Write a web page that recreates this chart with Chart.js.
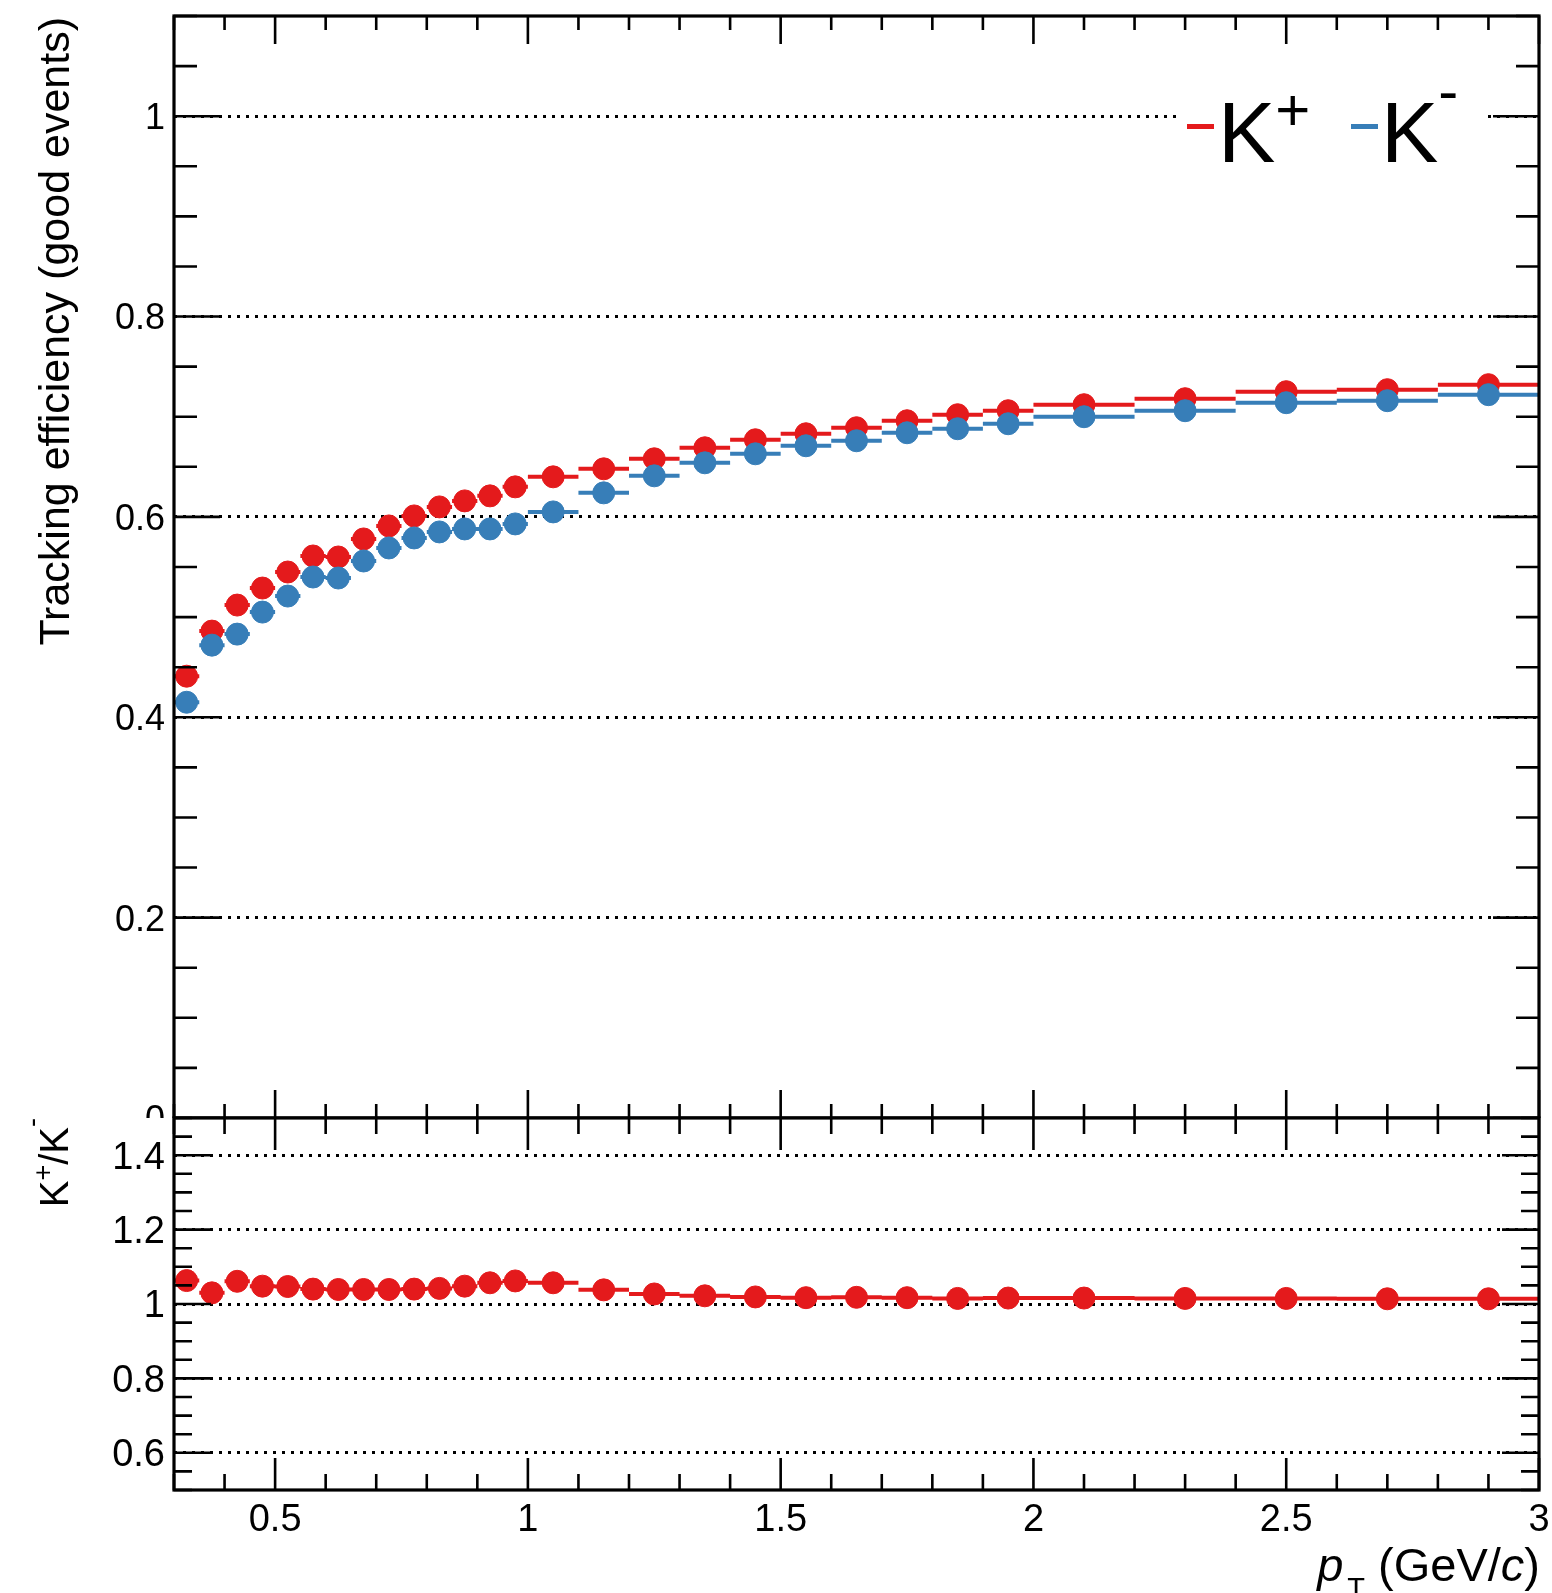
<!DOCTYPE html>
<html>
<head>
<meta charset="utf-8">
<title>Kaon tracking efficiency</title>
<script src="https://cdn.jsdelivr.net/npm/chart.js@4.4.1/dist/chart.umd.min.js"></script>
<style>
  html, body { margin: 0; padding: 0; background: #fff; }
  #wrap { position: relative; width: 1552px; height: 1593px; overflow: hidden; }
  #effPad { position: absolute; left: 0; top: 0; width: 1552px; height: 1118px; overflow: hidden; }
  #effPad canvas { position: absolute; left: 0; top: 0; }
  #ratioCanvas { position: absolute; left: 0; top: 1100px; }
</style>
</head>
<body>
<div id="wrap">
  <div id="effPad"><canvas id="effCanvas" width="1552" height="1142"></canvas></div>
  <canvas id="ratioCanvas" width="1552" height="493"></canvas>
</div>
<script>
// pT bins (GeV/c)
const binLow = [0.30, 0.35, 0.40, 0.45, 0.50, 0.55, 0.60, 0.65, 0.70, 0.75, 0.80, 0.85, 0.90, 0.95,
                1.0, 1.1, 1.2, 1.3, 1.4, 1.5, 1.6, 1.7, 1.8, 1.9,
                2.0, 2.2, 2.4, 2.6, 2.8];
const binHigh = [0.35, 0.40, 0.45, 0.50, 0.55, 0.60, 0.65, 0.70, 0.75, 0.80, 0.85, 0.90, 0.95, 1.00,
                 1.1, 1.2, 1.3, 1.4, 1.5, 1.6, 1.7, 1.8, 1.9, 2.0,
                 2.2, 2.4, 2.6, 2.8, 3.0];
const binCenter = [0.325, 0.375, 0.425, 0.475, 0.525, 0.575, 0.625, 0.675, 0.725, 0.775, 0.825, 0.875, 0.925, 0.975,
                   1.05, 1.15, 1.25, 1.35, 1.45, 1.55, 1.65, 1.75, 1.85, 1.95,
                   2.1, 2.3, 2.5, 2.7, 2.9];

// efficiencies per bin
const effKPlus = [0.441, 0.486, 0.512, 0.529, 0.545, 0.561, 0.560, 0.578, 0.591, 0.601, 0.610, 0.616, 0.621, 0.630,
                  0.640, 0.648, 0.658, 0.669, 0.677, 0.683, 0.689, 0.696, 0.702, 0.706,
                  0.712, 0.718, 0.725, 0.727, 0.732];
const effKMinus = [0.415, 0.472, 0.483, 0.505, 0.521, 0.540, 0.539, 0.556, 0.569, 0.579, 0.585, 0.588, 0.588, 0.593,
                   0.605, 0.624, 0.641, 0.654, 0.663, 0.671, 0.676, 0.684, 0.688, 0.693,
                   0.700, 0.706, 0.714, 0.716, 0.722];
const ratioKpKm = [1.063, 1.030, 1.061, 1.048, 1.047, 1.040, 1.039, 1.039, 1.039, 1.040, 1.042, 1.048, 1.057, 1.062,
                   1.057, 1.038, 1.027, 1.022, 1.019, 1.017, 1.018, 1.017, 1.015, 1.016,
                   1.016, 1.015, 1.015, 1.014, 1.014];

// axes
const ptRange = [0.3, 3.0];
const ptTicks = [0.5, 1, 1.5, 2, 2.5, 3];
const ptTickLabels = ['0.5', '1', '1.5', '2', '2.5', '3'];
const effRange = [0, 1.1];
const effTicks = [0, 0.2, 0.4, 0.6, 0.8, 1];
const effTickLabels = ['0', '0.2', '0.4', '0.6', '0.8', '1'];
const ratioRange = [0.5, 1.5];
const ratioTicks = [0.6, 0.8, 1, 1.2, 1.4];
const ratioTickLabels = ['0.6', '0.8', '1', '1.2', '1.4'];

const RED = '#E41A1C';
const BLUE = '#377EB8';
const FONT = '"Liberation Sans", Arial, Helvetica, sans-serif';

function fontOf(p) {
  return (p.italic ? 'italic ' : '') + p.size + 'px ' + FONT;
}
function richWidth(ctx, parts) {
  let w = 0;
  for (const p of parts) {
    ctx.font = fontOf(p);
    w += ctx.measureText(p.text).width + (p.gap || 0);
  }
  return w;
}
// draws a run of text pieces left to right from (x, y) on a common baseline
function drawRich(ctx, parts, x, y) {
  ctx.textAlign = 'left';
  ctx.textBaseline = 'alphabetic';
  for (const p of parts) {
    x += p.gap || 0;
    ctx.font = fontOf(p);
    ctx.fillText(p.text, x, y + (p.dy || 0));
    x += ctx.measureText(p.text).width;
  }
  return x;
}

// horizontal bars spanning each bin, drawn just under the dataset's markers
const binBars = {
  id: 'binBars',
  beforeDatasetDraw(chart, args) {
    const ds = chart.data.datasets[args.index];
    const { ctx, chartArea: a, scales: { x, y } } = chart;
    ctx.save();
    ctx.beginPath();
    ctx.rect(a.left, a.top, a.width, a.height);
    ctx.clip();
    ctx.strokeStyle = ds.borderColor;
    ctx.lineWidth = 4;
    ctx.beginPath();
    ds.data.forEach((pt, i) => {
      const py = y.getPixelForValue(pt.y);
      ctx.moveTo(x.getPixelForValue(binLow[i]), py);
      ctx.lineTo(x.getPixelForValue(binHigh[i]), py);
    });
    ctx.stroke();
    ctx.restore();
  }
};

// inward tick marks on all four sides plus the frame
const rootAxes = {
  id: 'rootAxes',
  afterDraw(chart, args, o) {
    const { ctx, chartArea: a, scales: { x, y } } = chart;
    const near = (arr, v) => arr.some(t => Math.abs(t - v) < 1e-6);
    ctx.save();
    ctx.strokeStyle = '#000';
    ctx.lineWidth = 2.6;
    ctx.beginPath();
    const nx = Math.round((ptRange[1] - ptRange[0]) / o.xStep);
    for (let i = 0; i <= nx; i++) {
      const v = ptRange[0] + i * o.xStep;
      const len = near(ptTicks, v) ? o.xMajor : o.xMinor;
      const px = x.getPixelForValue(v);
      ctx.moveTo(px, a.top); ctx.lineTo(px, a.top + len);
      ctx.moveTo(px, a.bottom); ctx.lineTo(px, a.bottom - len);
    }
    const ny = Math.round((y.max - y.min) / o.yStep);
    for (let i = 0; i <= ny; i++) {
      const v = y.min + i * o.yStep;
      const len = near(o.yMajors, v) ? o.yMajor : o.yMinor;
      const py = y.getPixelForValue(v);
      ctx.moveTo(a.left, py); ctx.lineTo(a.left + len, py);
      ctx.moveTo(a.right, py); ctx.lineTo(a.right - len, py);
    }
    ctx.stroke();
    ctx.lineWidth = 3.2;
    ctx.strokeRect(a.left, a.top, a.width, a.height);
    ctx.restore();
  }
};

// legend and y title of the efficiency pad
const effDecor = {
  id: 'effDecor',
  afterDatasetsDraw(chart) {
    const ctx = chart.ctx;
    ctx.save();
    ctx.fillStyle = '#fff';
    ctx.fillRect(1178, 80, 310, 92);
    ctx.fillStyle = RED;
    ctx.fillRect(1187, 124, 27, 5);
    ctx.fillStyle = BLUE;
    ctx.fillRect(1351, 124, 27, 5);
    ctx.fillStyle = '#000';
    drawRich(ctx, [{ text: 'K', size: 86 }, { text: '+', size: 60, dy: -32 }], 1218, 162);
    drawRich(ctx, [{ text: 'K', size: 86 }, { text: '-', size: 60, dy: -51 }], 1381, 162);
    ctx.restore();
  },
  afterDraw(chart) {
    const ctx = chart.ctx;
    ctx.save();
    ctx.translate(69, 17);
    ctx.rotate(-Math.PI / 2);
    ctx.fillStyle = '#000';
    ctx.font = '43px ' + FONT;
    ctx.textAlign = 'right';
    ctx.textBaseline = 'alphabetic';
    ctx.fillText('Tracking efficiency (good events)', 0, 0);
    ctx.restore();
  }
};

// axis titles of the ratio pad
const ratioDecor = {
  id: 'ratioDecor',
  afterDraw(chart) {
    const ctx = chart.ctx;
    ctx.save();
    ctx.fillStyle = '#000';
    const yParts = [
      { text: 'K', size: 40 },
      { text: '+', size: 27, dy: -16 },
      { text: '/K', size: 40 },
      { text: '-', size: 27, dy: -27 }
    ];
    ctx.save();
    ctx.translate(68, 18);
    ctx.rotate(-Math.PI / 2);
    drawRich(ctx, yParts, -richWidth(ctx, yParts), 0);
    ctx.restore();

    const xParts = [
      { text: 'p', size: 47, italic: true },
      { text: 'T', size: 29, dy: 17, gap: 4 },
      { text: ' (GeV/', size: 47 },
      { text: 'c', size: 47, italic: true },
      { text: ')', size: 47 }
    ];
    drawRich(ctx, xParts, 1540 - richWidth(ctx, xParts), 481);
    ctx.restore();
  }
};

function yScale(range, ticks, labels, fontSize) {
  return {
    type: 'linear',
    min: range[0],
    max: range[1],
    afterBuildTicks: s => { s.ticks = ticks.map(v => ({ value: v })); },
    // fixed label column; labels at the pad edges may run past the frame
    afterFit: s => { s.width = 174; s.paddingTop = 0; s.paddingBottom = 0; },
    grid: { color: '#000', lineWidth: 3, drawTicks: false },
    border: { display: false, dash: [3, 6] },
    ticks: {
      padding: 9,
      labelOffset: 3,
      color: '#000',
      font: { family: FONT, size: fontSize },
      callback: (v, i) => labels[i]
    }
  };
}

function series(values, color, order) {
  return {
    data: binCenter.map((x, i) => ({ x, y: values[i] })),
    backgroundColor: color,
    borderColor: color,
    pointRadius: 11,
    pointBorderWidth: 1,
    pointHoverRadius: 11,
    showLine: false,
    order
  };
}

const common = {
  responsive: false,
  animation: false,
  events: [],
  plugins: { legend: { display: false }, tooltip: { enabled: false } }
};

// the canvas runs 24px past the pad edge, which hides the lower half of the "0" label
new Chart(document.getElementById('effCanvas'), {
  type: 'scatter',
  data: { datasets: [series(effKPlus, RED, 2), series(effKMinus, BLUE, 1)] },
  options: {
    ...common,
    layout: { padding: { top: 16, right: 13, bottom: 24, left: 0 } },
    plugins: {
      ...common.plugins,
      rootAxes: { xStep: 0.1, xMajor: 28, xMinor: 14, yStep: 0.05, yMajors: effTicks, yMajor: 46, yMinor: 23 }
    },
    scales: {
      x: { type: 'linear', min: ptRange[0], max: ptRange[1], display: false },
      y: yScale(effRange, effTicks, effTickLabels, 36)
    }
  },
  plugins: [binBars, effDecor, rootAxes]
});

new Chart(document.getElementById('ratioCanvas'), {
  type: 'scatter',
  data: { datasets: [series(ratioKpKm, RED, 1)] },
  options: {
    ...common,
    layout: { padding: { top: 18, right: 13, bottom: 0, left: 0 } },
    plugins: {
      ...common.plugins,
      rootAxes: { xStep: 0.1, xMajor: 32, xMinor: 16, yStep: 0.05, yMajors: ratioTicks, yMajor: 37, yMinor: 18 }
    },
    scales: {
      x: {
        type: 'linear',
        min: ptRange[0],
        max: ptRange[1],
        afterBuildTicks: s => { s.ticks = ptTicks.map(v => ({ value: v })); },
        afterFit: s => { s.height = 103; s.paddingLeft = 0; s.paddingRight = 0; },
        grid: { display: false, drawTicks: false },
        border: { display: false },
        ticks: {
          padding: 8,
          autoSkip: false,
          maxRotation: 0,
          color: '#000',
          font: { family: FONT, size: 38 },
          callback: (v, i) => ptTickLabels[i]
        }
      },
      y: yScale(ratioRange, ratioTicks, ratioTickLabels, 38)
    }
  },
  plugins: [binBars, ratioDecor, rootAxes]
});
</script>
</body>
</html>
